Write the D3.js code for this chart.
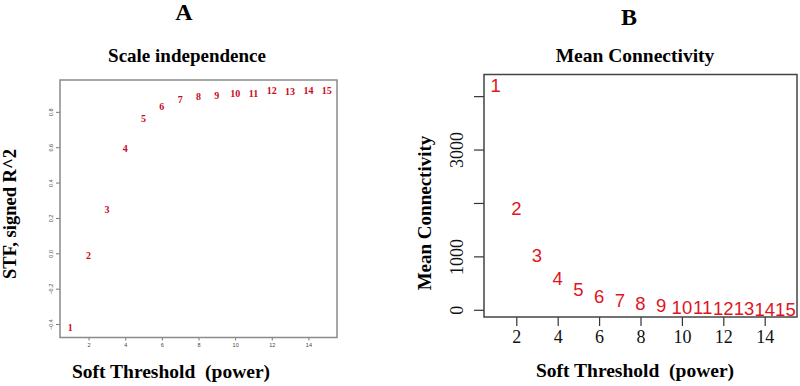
<!DOCTYPE html>
<html>
<head>
<meta charset="utf-8">
<script src="https://cdn.jsdelivr.net/npm/d3@7"></script>
<style>
  body { margin: 0; background: #fff; }
  svg { display: block; }
</style>
</head>
<body>
<svg id="chart"></svg>
<script>
let width = 800, height = 386;

// soft-threshold powers
let powers = [1, 2, 3, 4, 5, 6, 7, 8, 9, 10, 11, 12, 13, 14, 15];
// panel A: scale-free topology fit, signed R^2
let sftR2 = [-0.42, -0.01, 0.25, 0.59, 0.76, 0.83, 0.87, 0.885, 0.895, 0.905, 0.906, 0.918, 0.916, 0.918, 0.92];
// panel B: mean connectivity
let meanK = [4206, 1900, 1015, 592, 374, 249, 174, 112, 88, 52, 38, 27, 19, 13, 9];

let xTicks = [2, 4, 6, 8, 10, 12, 14];
let yTicksA = [-0.4, -0.2, 0.0, 0.2, 0.4, 0.6, 0.8];
let yTicksB = [0, 1000, 2000, 3000, 4000];
let yLabelsB = [0, 1000, 3000];

let serif = "'Liberation Serif', 'Times New Roman', serif";
let sans = "'Liberation Sans', Arial, sans-serif";

let svg = d3.select("#chart")
  .attr("width", width)
  .attr("height", height);

// ---------- panel A ----------
let xA = d3.scaleLinear().domain([0.44, 15.56]).range([60, 337]);
let yA = d3.scaleLinear().domain([-0.476, 0.98]).range([337.5, 80]);

svg.append("text")
  .text("A")
  .attr("x", 184).attr("y", 20)
  .attr("text-anchor", "middle")
  .attr("font-family", serif).attr("font-weight", "bold")
  .attr("font-size", 24);

svg.append("text")
  .text("Scale independence")
  .attr("x", 187).attr("y", 61.5)
  .attr("text-anchor", "middle")
  .attr("font-family", serif).attr("font-weight", "bold")
  .attr("font-size", 19);

let axA = svg.append("g")
  .attr("transform", `translate(0, ${yA.range()[0]})`)
  .call(d3.axisBottom(xA).tickValues(xTicks).tickSize(3).tickPadding(3));
axA.select(".domain").remove();
axA.selectAll("line").attr("stroke", "#777");
axA.selectAll("text").attr("font-size", 5.5).attr("fill", "#444").attr("font-family", sans);

let ayA = svg.append("g")
  .attr("transform", `translate(${xA.range()[0]}, 0)`)
  .call(d3.axisLeft(yA).tickValues(yTicksA).tickSize(4).tickPadding(3).tickFormat(d3.format(".1f")));
ayA.select(".domain").remove();
ayA.selectAll("line").attr("stroke", "#777");
ayA.selectAll("text")
  .attr("font-size", 5.5).attr("fill", "#444").attr("font-family", sans)
  .attr("text-anchor", "middle")
  .attr("transform", "rotate(-90, -9, 0)")
  .attr("x", -9).attr("dy", "0.32em");

svg.append("rect")
  .attr("x", xA.range()[0]).attr("y", yA.range()[1])
  .attr("width", xA.range()[1] - xA.range()[0])
  .attr("height", yA.range()[0] - yA.range()[1])
  .attr("fill", "none")
  .attr("stroke", "#8a8a8a")
  .attr("stroke-width", 1.5);

svg.append("g")
  .selectAll("text")
  .data(powers)
  .join("text")
  .text(d => d)
  .attr("x", d => xA(d))
  .attr("y", (d, i) => yA(sftR2[i]))
  .attr("dy", "0.35em")
  .attr("text-anchor", "middle")
  .attr("font-family", serif).attr("font-weight", "bold")
  .attr("font-size", 10)
  .attr("fill", "#cc0a22");

svg.append("text")
  .text("STF, signed R^2")
  .attr("transform", "translate(16, 214) rotate(-90)")
  .attr("text-anchor", "middle")
  .attr("font-family", serif).attr("font-weight", "bold")
  .attr("font-size", 18.5);

svg.append("text")
  .text("Soft Threshold  (power)")
  .attr("x", 171).attr("y", 378)
  .attr("text-anchor", "middle")
  .style("white-space", "pre")
  .attr("font-family", serif).attr("font-weight", "bold")
  .attr("font-size", 19.5);

// ---------- panel B ----------
let xB = d3.scaleLinear().domain([0.44, 15.56]).range([484, 797]);
let yB = d3.scaleLinear().domain([-135, 4405]).range([317, 74.5]);

svg.append("text")
  .text("B")
  .attr("x", 629).attr("y", 25)
  .attr("text-anchor", "middle")
  .attr("font-family", serif).attr("font-weight", "bold")
  .attr("font-size", 24);

svg.append("text")
  .text("Mean Connectivity")
  .attr("x", 635).attr("y", 61.5)
  .attr("text-anchor", "middle")
  .attr("font-family", serif).attr("font-weight", "bold")
  .attr("font-size", 19.5);

let axB = svg.append("g")
  .attr("transform", `translate(0, ${yB.range()[0]})`)
  .call(d3.axisBottom(xB).tickValues(xTicks).tickSize(9).tickPadding(4));
axB.select(".domain").remove();
axB.selectAll("line").attr("stroke", "#333").attr("stroke-width", 1.2);
axB.selectAll("text").attr("font-size", 18).attr("fill", "#111").attr("font-family", serif);

let ayB = svg.append("g")
  .attr("transform", `translate(${xB.range()[0]}, 0)`)
  .call(d3.axisLeft(yB).tickValues(yTicksB).tickSize(10).tickPadding(4)
    .tickFormat(d => yLabelsB.includes(d) ? d : ""));
ayB.select(".domain").remove();
ayB.selectAll("line").attr("stroke", "#333").attr("stroke-width", 1.2);
ayB.selectAll("text")
  .attr("font-size", 18).attr("fill", "#111").attr("font-family", serif)
  .attr("text-anchor", "middle")
  .attr("transform", "rotate(-90, -27, 0)")
  .attr("x", -27).attr("dy", "0.35em");

svg.append("rect")
  .attr("x", xB.range()[0]).attr("y", yB.range()[1])
  .attr("width", xB.range()[1] - xB.range()[0])
  .attr("height", yB.range()[0] - yB.range()[1])
  .attr("fill", "none")
  .attr("stroke", "#444")
  .attr("stroke-width", 1.5);

svg.append("g")
  .selectAll("text")
  .data(powers)
  .join("text")
  .text(d => d)
  .attr("x", d => xB(d))
  .attr("y", (d, i) => yB(meanK[i]))
  .attr("dy", "0.36em")
  .attr("text-anchor", "middle")
  .attr("font-family", sans)
  .attr("font-size", 18.5)
  .attr("fill", "#e0141e");

svg.append("text")
  .text("Mean Connectivity")
  .attr("transform", "translate(431, 213) rotate(-90)")
  .attr("text-anchor", "middle")
  .attr("font-family", serif).attr("font-weight", "bold")
  .attr("font-size", 19);

svg.append("text")
  .text("Soft Threshold  (power)")
  .attr("x", 635).attr("y", 377)
  .attr("text-anchor", "middle")
  .style("white-space", "pre")
  .attr("font-family", serif).attr("font-weight", "bold")
  .attr("font-size", 19.5);
</script>
</body>
</html>
